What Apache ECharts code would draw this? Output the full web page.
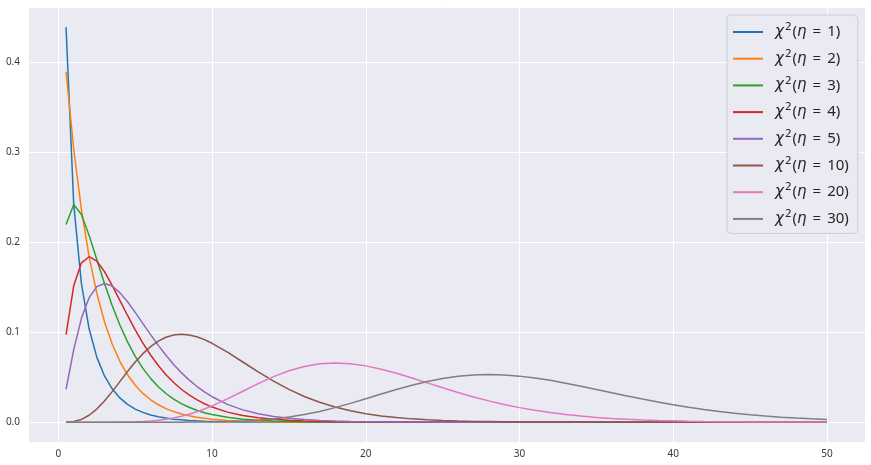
<!DOCTYPE html>
<html><head><meta charset="utf-8">
<script src="https://cdn.jsdelivr.net/npm/echarts@6/dist/echarts.min.js"></script>
<style>html,body{margin:0;padding:0;background:#fff}#c{width:871px;height:465px}</style>
</head><body><div id="c"></div>
<script>
// x sample points
const xValues = [0.5,1,1.5,2,2.5,3,3.5,4,4.5,5,5.5,6,6.5,7,7.5,8,8.5,9,9.5,10,
  11,12,13,14,15,16,17,18,19,20,21,22,23,24,25,26,27,28,29,30,
  31,32,33,34,35,36,37,38,39,40,41,42,43,44,45,46,47,48,49,50];
const etas = [1,2,3,4,5,10,20,30];
const yEta1 = [0.439,0.242,0.1539,0.1038,0.0723,0.0514,0.0371,0.0270,0.0198,0.0146,0.0109,0.0081,0.0061,0.0046,0.0034,0.0026,0.0020,0.0015,0.0011,0.0009,
  0.0005,0.0003,0.0002,0.0001,0.0001,0,0,0,0,0, 0,0,0,0,0,0,0,0,0,0, 0,0,0,0,0,0,0,0,0,0, 0,0,0,0,0,0,0,0,0,0];
const yEta2 = [0.3894,0.3033,0.2362,0.1839,0.1433,0.1116,0.0869,0.0677,0.0527,0.0410,0.0320,0.0249,0.0194,0.0151,0.0118,0.0092,0.0071,0.0056,0.0043,0.0034,
  0.0020,0.0012,0.0008,0.0005,0.0003,0.0002,0.0001,0.0001,0,0, 0,0,0,0,0,0,0,0,0,0, 0,0,0,0,0,0,0,0,0,0, 0,0,0,0,0,0,0,0,0,0];
const yEta3 = [0.2197,0.2420,0.2308,0.2076,0.1807,0.1542,0.1297,0.1080,0.0892,0.0732,0.0598,0.0487,0.0394,0.0319,0.0257,0.0207,0.0166,0.0133,0.0106,0.0085,
  0.0054,0.0034,0.0022,0.0014,0.0009,0.0005,0.0003,0.0002,0.0001,0.0001, 0,0,0,0,0,0,0,0,0,0, 0,0,0,0,0,0,0,0,0,0, 0,0,0,0,0,0,0,0,0,0];
const yEta4 = [0.0974,0.1516,0.1771,0.1839,0.1791,0.1673,0.1520,0.1353,0.1186,0.1026,0.0879,0.0747,0.0630,0.0528,0.0441,0.0366,0.0303,0.0250,0.0205,0.0168,
  0.0112,0.0074,0.0049,0.0032,0.0021,0.0013,0.0009,0.0006,0.0004,0.0002, 0.0001,0.0001,0,0,0,0,0,0,0,0, 0,0,0,0,0,0,0,0,0,0, 0,0,0,0,0,0,0,0,0,0];
const yEta5 = [0.0366,0.0807,0.1154,0.1384,0.1506,0.1542,0.1513,0.1440,0.1338,0.1220,0.1096,0.0973,0.0854,0.0744,0.0642,0.0551,0.0470,0.0399,0.0337,0.0283,
  0.0198,0.0137,0.0094,0.0064,0.0043,0.0029,0.0019,0.0013,0.0008,0.0005, 0.0004,0.0002,0.0001,0.0001,0,0,0,0,0,0, 0,0,0,0,0,0,0,0,0,0, 0,0,0,0,0,0,0,0,0,0];
const yEta10 = [0.0001,0.0008,0.0031,0.0077,0.0146,0.0235,0.0340,0.0451,0.0563,0.0668,0.0762,0.0840,0.0901,0.0944,0.0969,0.0977,0.0970,0.0949,0.0918,0.0877,
  0.0779,0.0669,0.0559,0.0456,0.0365,0.0286,0.0221,0.0169,0.0127,0.0095, 0.0070,0.0051,0.0037,0.0027,0.0019,0.0013,0.0009,0.0007,0.0005,0.0003,
  0.0002,0.0002,0.0001,0.0001,0,0,0,0,0,0, 0,0,0,0,0,0,0,0,0,0];
const yEta20 = [0,0,0,0,0,0,0,0.0001,0.0002,0.0004,0.0008,0.0014,0.0022,0.0033,0.0048,0.0066,0.0089,0.0116,0.0147,0.0181,
  0.0259,0.0344,0.0429,0.0507,0.0572,0.0620,0.0649,0.0659,0.0650,0.0626, 0.0589,0.0543,0.0491,0.0437,0.0383,0.0330,0.0281,0.0237,0.0197,0.0162,
  0.0132,0.0107,0.0085,0.0068,0.0053,0.0042,0.0032,0.0025,0.0019,0.0015, 0.0011,0.0008,0.0006,0.0005,0.0003,0.0003,0.0002,0.0001,0.0001,0.0001];
const yEta30 = [0,0,0,0,0,0,0,0,0,0,0,0,0,0,0,0,0.0001,0.0001,0.0001,0.0002,
  0.0005,0.0011,0.0021,0.0035,0.0057,0.0085,0.0120,0.0162,0.0209,0.0260, 0.0313,0.0364,0.0411,0.0453,0.0486,0.0511,0.0525,0.0530,0.0525,0.0512,
  0.0492,0.0465,0.0434,0.0400,0.0364,0.0327,0.0291,0.0257,0.0224,0.0194, 0.0166,0.0141,0.0119,0.0100,0.0083,0.0068,0.0056,0.0046,0.0037,0.0030];
const seriesValues = [yEta1,yEta2,yEta3,yEta4,yEta5,yEta10,yEta20,yEta30];
const xTickInterval = 10;
const yTickInterval = 0.1;

const colors = ['#1f77b4','#ff7f0e','#2ca02c','#d62728','#9467bd','#8c564b','#e377c2','#7f7f7f'];
const names = etas.map(e => 'χ²(η = ' + e + ')');

const chart = echarts.init(document.getElementById('c'), null, {renderer: 'canvas'});
const option = {
  animation: false,
  backgroundColor: '#ffffff',
  color: colors,
  grid: {left: 28, right: 6, top: 7, bottom: 23, show: true, backgroundColor: '#EAEAF2', borderWidth: 0, containLabel: false},
  xAxis: {
    type: 'value', min: -1.975, max: 52.475, splitNumber: 5,
    minInterval: xTickInterval, maxInterval: xTickInterval,
    axisLine: {show: false}, axisTick: {show: false},
    axisLabel: {showMinLabel: false, showMaxLabel: false, color: '#3a3a3a', fontSize: 10, fontFamily: 'Noto Sans', margin: 7},
    splitLine: {show: true, lineStyle: {color: '#ffffff', width: 1}}
  },
  yAxis: {
    type: 'value', min: -0.022, max: 0.4614, splitNumber: 5,
    minInterval: yTickInterval, maxInterval: yTickInterval,
    axisLine: {show: false}, axisTick: {show: false},
    axisLabel: {showMinLabel: false, showMaxLabel: false, color: '#3a3a3a', fontSize: 10, fontFamily: 'Noto Sans', margin: 8,
      formatter: v => v.toFixed(1)},
    splitLine: {show: true, lineStyle: {color: '#ffffff', width: 1}}
  },
  legend: {
    orient: 'vertical', left: 727, top: 15,
    padding: [7, 9, 7, 6],
    itemWidth: 30, itemHeight: 2, itemGap: 9.2, icon: 'rect',
    backgroundColor: '#EAEAF2', borderColor: '#CCCCCC', borderWidth: 1, borderRadius: 4,
    data: names,
    formatter: function (name) {
      const e = etas[names.indexOf(name)];
      return '{m|χ}{s|2}{n|(}{m|η}{e|=}{n|' + e + ')}';
    },
    textStyle: {
      padding: [0, 0, 0, 7],
      rich: {
        m: {fontFamily: 'DejaVu Sans', fontStyle: 'italic', fontSize: 15, color: '#262626', lineHeight: 20},
        s: {fontFamily: 'DejaVu Sans', fontSize: 10.5, color: '#262626', lineHeight: 20, verticalAlign: 'top', padding: [0,1,0,1]},
        n: {fontFamily: 'Noto Sans', fontSize: 15, color: '#262626', lineHeight: 20},
        e: {fontFamily: 'Noto Sans', fontSize: 15, color: '#262626', lineHeight: 20, padding: [0,6,0,6]}
      }
    }
  },
  series: seriesValues.map((vals, i) => ({
    name: names[i],
    type: 'line',
    data: xValues.map((x, j) => [x, vals[j]]),
    showSymbol: false,
    symbol: 'none',
    lineStyle: {width: 1.5, color: colors[i]},
    itemStyle: {color: colors[i]}
  }))
};
chart.setOption(option);
</script>
</body></html>
